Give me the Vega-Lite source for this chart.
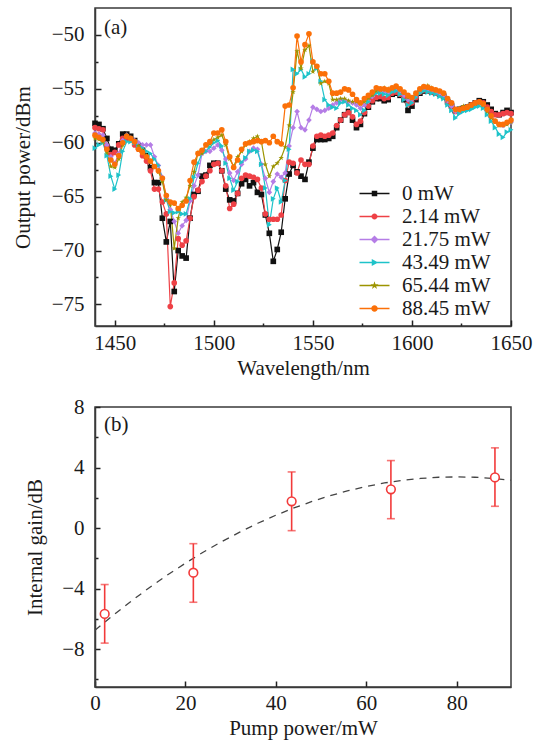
{
"$schema":"https://vega.github.io/schema/vega-lite/v6.json",
"padding":{"left":11,"top":7,"right":10,"bottom":5},
"background":"white",
"spacing":16,
"config":{
 "view":{"stroke":"#3a3a3a","strokeWidth":1.5},
 "font":"Liberation Serif",
 "axis":{"grid":false,"domainColor":"#3a3a3a","domainWidth":1.5,"tickColor":"#222222","tickWidth":1.5,"labelFont":"Liberation Serif","labelFontSize":21,"labelColor":"#1a1a1a","titleFont":"Liberation Serif","titleFontSize":21,"titleFontWeight":"normal","titleColor":"#1a1a1a","labelFlush":false,"labelOverlap":false}
},
"datasets":{
"spec":[
{"s":"0 mW","w":1440,"p":-58.2},{"s":"0 mW","w":1442,"p":-58.3},{"s":"0 mW","w":1444,"p":-58.7},{"s":"0 mW","w":1446,"p":-59.6},{"s":"0 mW","w":1448,"p":-60.6},{"s":"0 mW","w":1450,"p":-60.7},{"s":"0 mW","w":1452,"p":-60.1},{"s":"0 mW","w":1454,"p":-59.2},{"s":"0 mW","w":1456,"p":-59.2},{"s":"0 mW","w":1458,"p":-59.4},{"s":"0 mW","w":1460,"p":-59.8},{"s":"0 mW","w":1462,"p":-60.3},{"s":"0 mW","w":1464,"p":-60.7},{"s":"0 mW","w":1466,"p":-61.2},{"s":"0 mW","w":1468,"p":-62.3},{"s":"0 mW","w":1470,"p":-63.7},{"s":"0 mW","w":1472,"p":-63.7},{"s":"0 mW","w":1474,"p":-67.0},{"s":"0 mW","w":1476,"p":-69.2},{"s":"0 mW","w":1478,"p":-67.3},{"s":"0 mW","w":1480,"p":-73.8},{"s":"0 mW","w":1482,"p":-70.0},{"s":"0 mW","w":1484,"p":-70.5},{"s":"0 mW","w":1486,"p":-70.7},{"s":"0 mW","w":1488,"p":-67.0},{"s":"0 mW","w":1490,"p":-64.8},{"s":"0 mW","w":1492,"p":-64.5},{"s":"0 mW","w":1494,"p":-63.1},{"s":"0 mW","w":1496,"p":-63.0},{"s":"0 mW","w":1498,"p":-62.1},{"s":"0 mW","w":1500,"p":-61.9},{"s":"0 mW","w":1502,"p":-61.9},{"s":"0 mW","w":1504,"p":-62.6},{"s":"0 mW","w":1506,"p":-64.3},{"s":"0 mW","w":1508,"p":-65.3},{"s":"0 mW","w":1510,"p":-65.4},{"s":"0 mW","w":1512,"p":-64.7},{"s":"0 mW","w":1514,"p":-63.8},{"s":"0 mW","w":1516,"p":-63.4},{"s":"0 mW","w":1518,"p":-64.0},{"s":"0 mW","w":1520,"p":-63.7},{"s":"0 mW","w":1522,"p":-64.6},{"s":"0 mW","w":1524,"p":-64.8},{"s":"0 mW","w":1526,"p":-66.7},{"s":"0 mW","w":1528,"p":-68.4},{"s":"0 mW","w":1530,"p":-71.0},{"s":"0 mW","w":1532,"p":-69.9},{"s":"0 mW","w":1534,"p":-68.3},{"s":"0 mW","w":1536,"p":-65.2},{"s":"0 mW","w":1538,"p":-62.9},{"s":"0 mW","w":1540,"p":-62.1},{"s":"0 mW","w":1542,"p":-62.7},{"s":"0 mW","w":1544,"p":-63.1},{"s":"0 mW","w":1546,"p":-63.4},{"s":"0 mW","w":1548,"p":-61.8},{"s":"0 mW","w":1550,"p":-60.5},{"s":"0 mW","w":1552,"p":-59.7},{"s":"0 mW","w":1554,"p":-59.7},{"s":"0 mW","w":1556,"p":-59.7},{"s":"0 mW","w":1558,"p":-59.6},{"s":"0 mW","w":1560,"p":-59.4},{"s":"0 mW","w":1562,"p":-58.6},{"s":"0 mW","w":1564,"p":-57.9},{"s":"0 mW","w":1566,"p":-57.4},{"s":"0 mW","w":1568,"p":-57.1},{"s":"0 mW","w":1570,"p":-57.9},{"s":"0 mW","w":1572,"p":-58.6},{"s":"0 mW","w":1574,"p":-58.3},{"s":"0 mW","w":1576,"p":-57.3},{"s":"0 mW","w":1578,"p":-56.7},{"s":"0 mW","w":1580,"p":-56.2},{"s":"0 mW","w":1582,"p":-55.9},{"s":"0 mW","w":1584,"p":-55.9},{"s":"0 mW","w":1586,"p":-56.1},{"s":"0 mW","w":1588,"p":-56.0},{"s":"0 mW","w":1590,"p":-55.5},{"s":"0 mW","w":1592,"p":-55.4},{"s":"0 mW","w":1594,"p":-55.6},{"s":"0 mW","w":1596,"p":-56.0},{"s":"0 mW","w":1598,"p":-57.0},{"s":"0 mW","w":1600,"p":-56.6},{"s":"0 mW","w":1602,"p":-56.0},{"s":"0 mW","w":1604,"p":-55.4},{"s":"0 mW","w":1606,"p":-55.2},{"s":"0 mW","w":1608,"p":-55.2},{"s":"0 mW","w":1610,"p":-55.3},{"s":"0 mW","w":1612,"p":-55.4},{"s":"0 mW","w":1614,"p":-55.5},{"s":"0 mW","w":1616,"p":-55.7},{"s":"0 mW","w":1618,"p":-56.2},{"s":"0 mW","w":1620,"p":-56.6},{"s":"0 mW","w":1622,"p":-57.0},{"s":"0 mW","w":1624,"p":-56.9},{"s":"0 mW","w":1626,"p":-56.8},{"s":"0 mW","w":1628,"p":-56.7},{"s":"0 mW","w":1630,"p":-56.5},{"s":"0 mW","w":1632,"p":-56.3},{"s":"0 mW","w":1634,"p":-56.1},{"s":"0 mW","w":1636,"p":-56.2},{"s":"0 mW","w":1638,"p":-56.5},{"s":"0 mW","w":1640,"p":-56.9},{"s":"0 mW","w":1642,"p":-57.3},{"s":"0 mW","w":1644,"p":-57.4},{"s":"0 mW","w":1646,"p":-57.2},{"s":"0 mW","w":1648,"p":-57.0},{"s":"0 mW","w":1650,"p":-57.2},
{"s":"2.14 mW","w":1440,"p":-58.6},{"s":"2.14 mW","w":1442,"p":-58.7},{"s":"2.14 mW","w":1444,"p":-58.8},{"s":"2.14 mW","w":1446,"p":-60.3},{"s":"2.14 mW","w":1448,"p":-61.1},{"s":"2.14 mW","w":1450,"p":-60.9},{"s":"2.14 mW","w":1452,"p":-60.2},{"s":"2.14 mW","w":1454,"p":-59.6},{"s":"2.14 mW","w":1456,"p":-59.6},{"s":"2.14 mW","w":1458,"p":-59.7},{"s":"2.14 mW","w":1460,"p":-60.2},{"s":"2.14 mW","w":1462,"p":-60.6},{"s":"2.14 mW","w":1464,"p":-61.2},{"s":"2.14 mW","w":1466,"p":-61.7},{"s":"2.14 mW","w":1468,"p":-62.6},{"s":"2.14 mW","w":1470,"p":-64.3},{"s":"2.14 mW","w":1472,"p":-64.3},{"s":"2.14 mW","w":1474,"p":-65.5},{"s":"2.14 mW","w":1476,"p":-66.6},{"s":"2.14 mW","w":1478,"p":-75.2},{"s":"2.14 mW","w":1480,"p":-73.0},{"s":"2.14 mW","w":1482,"p":-68.9},{"s":"2.14 mW","w":1484,"p":-69.5},{"s":"2.14 mW","w":1486,"p":-69.1},{"s":"2.14 mW","w":1488,"p":-67.0},{"s":"2.14 mW","w":1490,"p":-65.0},{"s":"2.14 mW","w":1492,"p":-64.4},{"s":"2.14 mW","w":1494,"p":-63.6},{"s":"2.14 mW","w":1496,"p":-63.1},{"s":"2.14 mW","w":1498,"p":-62.6},{"s":"2.14 mW","w":1500,"p":-62.0},{"s":"2.14 mW","w":1502,"p":-61.9},{"s":"2.14 mW","w":1504,"p":-62.6},{"s":"2.14 mW","w":1506,"p":-64.0},{"s":"2.14 mW","w":1508,"p":-66.1},{"s":"2.14 mW","w":1510,"p":-65.7},{"s":"2.14 mW","w":1512,"p":-64.7},{"s":"2.14 mW","w":1514,"p":-63.3},{"s":"2.14 mW","w":1516,"p":-63.0},{"s":"2.14 mW","w":1518,"p":-63.1},{"s":"2.14 mW","w":1520,"p":-63.2},{"s":"2.14 mW","w":1522,"p":-63.4},{"s":"2.14 mW","w":1524,"p":-64.2},{"s":"2.14 mW","w":1526,"p":-66.6},{"s":"2.14 mW","w":1528,"p":-67.1},{"s":"2.14 mW","w":1530,"p":-67.1},{"s":"2.14 mW","w":1532,"p":-67.1},{"s":"2.14 mW","w":1534,"p":-66.7},{"s":"2.14 mW","w":1536,"p":-63.5},{"s":"2.14 mW","w":1538,"p":-61.8},{"s":"2.14 mW","w":1540,"p":-61.9},{"s":"2.14 mW","w":1542,"p":-62.8},{"s":"2.14 mW","w":1544,"p":-61.6},{"s":"2.14 mW","w":1546,"p":-62.0},{"s":"2.14 mW","w":1548,"p":-62.0},{"s":"2.14 mW","w":1550,"p":-60.3},{"s":"2.14 mW","w":1552,"p":-59.4},{"s":"2.14 mW","w":1554,"p":-59.3},{"s":"2.14 mW","w":1556,"p":-59.4},{"s":"2.14 mW","w":1558,"p":-59.3},{"s":"2.14 mW","w":1560,"p":-59.1},{"s":"2.14 mW","w":1562,"p":-58.4},{"s":"2.14 mW","w":1564,"p":-57.9},{"s":"2.14 mW","w":1566,"p":-57.4},{"s":"2.14 mW","w":1568,"p":-57.2},{"s":"2.14 mW","w":1570,"p":-57.6},{"s":"2.14 mW","w":1572,"p":-58.3},{"s":"2.14 mW","w":1574,"p":-58.0},{"s":"2.14 mW","w":1576,"p":-57.2},{"s":"2.14 mW","w":1578,"p":-56.6},{"s":"2.14 mW","w":1580,"p":-56.1},{"s":"2.14 mW","w":1582,"p":-55.8},{"s":"2.14 mW","w":1584,"p":-55.7},{"s":"2.14 mW","w":1586,"p":-55.9},{"s":"2.14 mW","w":1588,"p":-55.8},{"s":"2.14 mW","w":1590,"p":-55.4},{"s":"2.14 mW","w":1592,"p":-55.3},{"s":"2.14 mW","w":1594,"p":-55.5},{"s":"2.14 mW","w":1596,"p":-55.8},{"s":"2.14 mW","w":1598,"p":-56.4},{"s":"2.14 mW","w":1600,"p":-56.3},{"s":"2.14 mW","w":1602,"p":-55.8},{"s":"2.14 mW","w":1604,"p":-55.3},{"s":"2.14 mW","w":1606,"p":-55.1},{"s":"2.14 mW","w":1608,"p":-55.2},{"s":"2.14 mW","w":1610,"p":-55.3},{"s":"2.14 mW","w":1612,"p":-55.4},{"s":"2.14 mW","w":1614,"p":-55.5},{"s":"2.14 mW","w":1616,"p":-55.7},{"s":"2.14 mW","w":1618,"p":-56.2},{"s":"2.14 mW","w":1620,"p":-56.6},{"s":"2.14 mW","w":1622,"p":-57.1},{"s":"2.14 mW","w":1624,"p":-57.0},{"s":"2.14 mW","w":1626,"p":-56.8},{"s":"2.14 mW","w":1628,"p":-56.7},{"s":"2.14 mW","w":1630,"p":-56.5},{"s":"2.14 mW","w":1632,"p":-56.3},{"s":"2.14 mW","w":1634,"p":-56.2},{"s":"2.14 mW","w":1636,"p":-56.3},{"s":"2.14 mW","w":1638,"p":-56.7},{"s":"2.14 mW","w":1640,"p":-57.1},{"s":"2.14 mW","w":1642,"p":-57.4},{"s":"2.14 mW","w":1644,"p":-57.4},{"s":"2.14 mW","w":1646,"p":-57.3},{"s":"2.14 mW","w":1648,"p":-57.2},{"s":"2.14 mW","w":1650,"p":-57.3},
{"s":"21.75 mW","w":1440,"p":-59.1},{"s":"21.75 mW","w":1442,"p":-59.2},{"s":"21.75 mW","w":1444,"p":-59.3},{"s":"21.75 mW","w":1446,"p":-60.2},{"s":"21.75 mW","w":1448,"p":-61.3},{"s":"21.75 mW","w":1450,"p":-61.9},{"s":"21.75 mW","w":1452,"p":-61.0},{"s":"21.75 mW","w":1454,"p":-59.8},{"s":"21.75 mW","w":1456,"p":-59.3},{"s":"21.75 mW","w":1458,"p":-59.6},{"s":"21.75 mW","w":1460,"p":-59.8},{"s":"21.75 mW","w":1462,"p":-60.0},{"s":"21.75 mW","w":1464,"p":-60.2},{"s":"21.75 mW","w":1466,"p":-60.2},{"s":"21.75 mW","w":1468,"p":-60.2},{"s":"21.75 mW","w":1470,"p":-61.3},{"s":"21.75 mW","w":1472,"p":-62.1},{"s":"21.75 mW","w":1474,"p":-63.2},{"s":"21.75 mW","w":1476,"p":-65.2},{"s":"21.75 mW","w":1478,"p":-66.2},{"s":"21.75 mW","w":1480,"p":-67.3},{"s":"21.75 mW","w":1482,"p":-68.4},{"s":"21.75 mW","w":1484,"p":-67.7},{"s":"21.75 mW","w":1486,"p":-67.2},{"s":"21.75 mW","w":1488,"p":-65.4},{"s":"21.75 mW","w":1490,"p":-64.0},{"s":"21.75 mW","w":1492,"p":-63.0},{"s":"21.75 mW","w":1494,"p":-61.0},{"s":"21.75 mW","w":1496,"p":-60.8},{"s":"21.75 mW","w":1498,"p":-60.8},{"s":"21.75 mW","w":1500,"p":-60.5},{"s":"21.75 mW","w":1502,"p":-60.2},{"s":"21.75 mW","w":1504,"p":-60.7},{"s":"21.75 mW","w":1506,"p":-61.5},{"s":"21.75 mW","w":1508,"p":-62.8},{"s":"21.75 mW","w":1510,"p":-63.5},{"s":"21.75 mW","w":1512,"p":-62.7},{"s":"21.75 mW","w":1514,"p":-62.0},{"s":"21.75 mW","w":1516,"p":-61.5},{"s":"21.75 mW","w":1518,"p":-60.8},{"s":"21.75 mW","w":1520,"p":-60.5},{"s":"21.75 mW","w":1522,"p":-60.6},{"s":"21.75 mW","w":1524,"p":-62.0},{"s":"21.75 mW","w":1526,"p":-63.3},{"s":"21.75 mW","w":1528,"p":-64.6},{"s":"21.75 mW","w":1530,"p":-63.6},{"s":"21.75 mW","w":1532,"p":-62.9},{"s":"21.75 mW","w":1534,"p":-63.2},{"s":"21.75 mW","w":1536,"p":-62.8},{"s":"21.75 mW","w":1538,"p":-60.3},{"s":"21.75 mW","w":1540,"p":-58.6},{"s":"21.75 mW","w":1542,"p":-57.1},{"s":"21.75 mW","w":1544,"p":-58.6},{"s":"21.75 mW","w":1546,"p":-58.8},{"s":"21.75 mW","w":1548,"p":-57.9},{"s":"21.75 mW","w":1550,"p":-56.7},{"s":"21.75 mW","w":1552,"p":-56.9},{"s":"21.75 mW","w":1554,"p":-57.1},{"s":"21.75 mW","w":1556,"p":-57.0},{"s":"21.75 mW","w":1558,"p":-56.8},{"s":"21.75 mW","w":1560,"p":-56.5},{"s":"21.75 mW","w":1562,"p":-56.3},{"s":"21.75 mW","w":1564,"p":-56.0},{"s":"21.75 mW","w":1566,"p":-56.1},{"s":"21.75 mW","w":1568,"p":-56.2},{"s":"21.75 mW","w":1570,"p":-56.3},{"s":"21.75 mW","w":1572,"p":-56.5},{"s":"21.75 mW","w":1574,"p":-56.8},{"s":"21.75 mW","w":1576,"p":-56.5},{"s":"21.75 mW","w":1578,"p":-56.1},{"s":"21.75 mW","w":1580,"p":-55.7},{"s":"21.75 mW","w":1582,"p":-55.3},{"s":"21.75 mW","w":1584,"p":-55.2},{"s":"21.75 mW","w":1586,"p":-55.3},{"s":"21.75 mW","w":1588,"p":-55.4},{"s":"21.75 mW","w":1590,"p":-55.1},{"s":"21.75 mW","w":1592,"p":-55.0},{"s":"21.75 mW","w":1594,"p":-55.2},{"s":"21.75 mW","w":1596,"p":-55.6},{"s":"21.75 mW","w":1598,"p":-56.0},{"s":"21.75 mW","w":1600,"p":-56.0},{"s":"21.75 mW","w":1602,"p":-55.6},{"s":"21.75 mW","w":1604,"p":-55.2},{"s":"21.75 mW","w":1606,"p":-55.0},{"s":"21.75 mW","w":1608,"p":-55.0},{"s":"21.75 mW","w":1610,"p":-55.2},{"s":"21.75 mW","w":1612,"p":-55.3},{"s":"21.75 mW","w":1614,"p":-55.4},{"s":"21.75 mW","w":1616,"p":-55.6},{"s":"21.75 mW","w":1618,"p":-56.1},{"s":"21.75 mW","w":1620,"p":-56.6},{"s":"21.75 mW","w":1622,"p":-57.1},{"s":"21.75 mW","w":1624,"p":-57.0},{"s":"21.75 mW","w":1626,"p":-56.9},{"s":"21.75 mW","w":1628,"p":-56.8},{"s":"21.75 mW","w":1630,"p":-56.6},{"s":"21.75 mW","w":1632,"p":-56.4},{"s":"21.75 mW","w":1634,"p":-56.3},{"s":"21.75 mW","w":1636,"p":-56.5},{"s":"21.75 mW","w":1638,"p":-57.0},{"s":"21.75 mW","w":1640,"p":-57.6},{"s":"21.75 mW","w":1642,"p":-58.0},{"s":"21.75 mW","w":1644,"p":-58.3},{"s":"21.75 mW","w":1646,"p":-58.4},{"s":"21.75 mW","w":1648,"p":-58.2},{"s":"21.75 mW","w":1650,"p":-58.1},
{"s":"43.49 mW","w":1440,"p":-60.5},{"s":"43.49 mW","w":1442,"p":-60.2},{"s":"43.49 mW","w":1444,"p":-60.0},{"s":"43.49 mW","w":1446,"p":-61.2},{"s":"43.49 mW","w":1448,"p":-63.1},{"s":"43.49 mW","w":1450,"p":-64.3},{"s":"43.49 mW","w":1452,"p":-63.0},{"s":"43.49 mW","w":1454,"p":-60.8},{"s":"43.49 mW","w":1456,"p":-59.9},{"s":"43.49 mW","w":1458,"p":-59.9},{"s":"43.49 mW","w":1460,"p":-60.0},{"s":"43.49 mW","w":1462,"p":-60.3},{"s":"43.49 mW","w":1464,"p":-60.5},{"s":"43.49 mW","w":1466,"p":-60.8},{"s":"43.49 mW","w":1468,"p":-61.0},{"s":"43.49 mW","w":1470,"p":-61.5},{"s":"43.49 mW","w":1472,"p":-62.1},{"s":"43.49 mW","w":1474,"p":-63.4},{"s":"43.49 mW","w":1476,"p":-65.3},{"s":"43.49 mW","w":1478,"p":-66.4},{"s":"43.49 mW","w":1480,"p":-66.5},{"s":"43.49 mW","w":1482,"p":-66.4},{"s":"43.49 mW","w":1484,"p":-66.6},{"s":"43.49 mW","w":1486,"p":-66.6},{"s":"43.49 mW","w":1488,"p":-65.2},{"s":"43.49 mW","w":1490,"p":-63.2},{"s":"43.49 mW","w":1492,"p":-61.9},{"s":"43.49 mW","w":1494,"p":-61.0},{"s":"43.49 mW","w":1496,"p":-60.8},{"s":"43.49 mW","w":1498,"p":-60.4},{"s":"43.49 mW","w":1500,"p":-60.0},{"s":"43.49 mW","w":1502,"p":-59.8},{"s":"43.49 mW","w":1504,"p":-60.3},{"s":"43.49 mW","w":1506,"p":-61.9},{"s":"43.49 mW","w":1508,"p":-63.3},{"s":"43.49 mW","w":1510,"p":-64.4},{"s":"43.49 mW","w":1512,"p":-63.6},{"s":"43.49 mW","w":1514,"p":-61.8},{"s":"43.49 mW","w":1516,"p":-61.4},{"s":"43.49 mW","w":1518,"p":-60.8},{"s":"43.49 mW","w":1520,"p":-60.7},{"s":"43.49 mW","w":1522,"p":-60.8},{"s":"43.49 mW","w":1524,"p":-62.0},{"s":"43.49 mW","w":1526,"p":-64.2},{"s":"43.49 mW","w":1528,"p":-67.6},{"s":"43.49 mW","w":1530,"p":-65.2},{"s":"43.49 mW","w":1532,"p":-64.2},{"s":"43.49 mW","w":1534,"p":-65.5},{"s":"43.49 mW","w":1536,"p":-63.5},{"s":"43.49 mW","w":1538,"p":-60.6},{"s":"43.49 mW","w":1540,"p":-53.2},{"s":"43.49 mW","w":1542,"p":-53.6},{"s":"43.49 mW","w":1544,"p":-53.2},{"s":"43.49 mW","w":1546,"p":-53.9},{"s":"43.49 mW","w":1548,"p":-53.6},{"s":"43.49 mW","w":1550,"p":-52.4},{"s":"43.49 mW","w":1552,"p":-53.1},{"s":"43.49 mW","w":1554,"p":-54.3},{"s":"43.49 mW","w":1556,"p":-56.0},{"s":"43.49 mW","w":1558,"p":-56.5},{"s":"43.49 mW","w":1560,"p":-56.7},{"s":"43.49 mW","w":1562,"p":-56.8},{"s":"43.49 mW","w":1564,"p":-56.3},{"s":"43.49 mW","w":1566,"p":-56.2},{"s":"43.49 mW","w":1568,"p":-56.5},{"s":"43.49 mW","w":1570,"p":-56.8},{"s":"43.49 mW","w":1572,"p":-57.0},{"s":"43.49 mW","w":1574,"p":-57.4},{"s":"43.49 mW","w":1576,"p":-57.0},{"s":"43.49 mW","w":1578,"p":-56.2},{"s":"43.49 mW","w":1580,"p":-55.6},{"s":"43.49 mW","w":1582,"p":-55.4},{"s":"43.49 mW","w":1584,"p":-55.4},{"s":"43.49 mW","w":1586,"p":-55.5},{"s":"43.49 mW","w":1588,"p":-55.6},{"s":"43.49 mW","w":1590,"p":-55.3},{"s":"43.49 mW","w":1592,"p":-55.2},{"s":"43.49 mW","w":1594,"p":-55.5},{"s":"43.49 mW","w":1596,"p":-56.0},{"s":"43.49 mW","w":1598,"p":-56.5},{"s":"43.49 mW","w":1600,"p":-56.3},{"s":"43.49 mW","w":1602,"p":-55.8},{"s":"43.49 mW","w":1604,"p":-55.4},{"s":"43.49 mW","w":1606,"p":-55.2},{"s":"43.49 mW","w":1608,"p":-55.3},{"s":"43.49 mW","w":1610,"p":-55.4},{"s":"43.49 mW","w":1612,"p":-55.5},{"s":"43.49 mW","w":1614,"p":-55.7},{"s":"43.49 mW","w":1616,"p":-55.9},{"s":"43.49 mW","w":1618,"p":-56.5},{"s":"43.49 mW","w":1620,"p":-57.0},{"s":"43.49 mW","w":1622,"p":-57.7},{"s":"43.49 mW","w":1624,"p":-57.3},{"s":"43.49 mW","w":1626,"p":-57.1},{"s":"43.49 mW","w":1628,"p":-57.0},{"s":"43.49 mW","w":1630,"p":-56.9},{"s":"43.49 mW","w":1632,"p":-56.7},{"s":"43.49 mW","w":1634,"p":-56.6},{"s":"43.49 mW","w":1636,"p":-56.8},{"s":"43.49 mW","w":1638,"p":-57.4},{"s":"43.49 mW","w":1640,"p":-58.0},{"s":"43.49 mW","w":1642,"p":-58.6},{"s":"43.49 mW","w":1644,"p":-59.2},{"s":"43.49 mW","w":1646,"p":-59.5},{"s":"43.49 mW","w":1648,"p":-59.0},{"s":"43.49 mW","w":1650,"p":-58.8},
{"s":"65.44 mW","w":1440,"p":-59.6},{"s":"65.44 mW","w":1442,"p":-59.7},{"s":"65.44 mW","w":1444,"p":-59.9},{"s":"65.44 mW","w":1446,"p":-60.9},{"s":"65.44 mW","w":1448,"p":-62.2},{"s":"65.44 mW","w":1450,"p":-62.3},{"s":"65.44 mW","w":1452,"p":-61.5},{"s":"65.44 mW","w":1454,"p":-60.2},{"s":"65.44 mW","w":1456,"p":-59.3},{"s":"65.44 mW","w":1458,"p":-59.6},{"s":"65.44 mW","w":1460,"p":-59.9},{"s":"65.44 mW","w":1462,"p":-60.3},{"s":"65.44 mW","w":1464,"p":-60.7},{"s":"65.44 mW","w":1466,"p":-61.2},{"s":"65.44 mW","w":1468,"p":-61.7},{"s":"65.44 mW","w":1470,"p":-62.2},{"s":"65.44 mW","w":1472,"p":-62.7},{"s":"65.44 mW","w":1474,"p":-63.6},{"s":"65.44 mW","w":1476,"p":-65.3},{"s":"65.44 mW","w":1478,"p":-65.7},{"s":"65.44 mW","w":1480,"p":-69.8},{"s":"65.44 mW","w":1482,"p":-67.0},{"s":"65.44 mW","w":1484,"p":-65.5},{"s":"65.44 mW","w":1486,"p":-65.1},{"s":"65.44 mW","w":1488,"p":-64.0},{"s":"65.44 mW","w":1490,"p":-62.7},{"s":"65.44 mW","w":1492,"p":-60.9},{"s":"65.44 mW","w":1494,"p":-61.0},{"s":"65.44 mW","w":1496,"p":-60.2},{"s":"65.44 mW","w":1498,"p":-60.1},{"s":"65.44 mW","w":1500,"p":-59.7},{"s":"65.44 mW","w":1502,"p":-59.5},{"s":"65.44 mW","w":1504,"p":-59.3},{"s":"65.44 mW","w":1506,"p":-60.2},{"s":"65.44 mW","w":1508,"p":-61.5},{"s":"65.44 mW","w":1510,"p":-62.2},{"s":"65.44 mW","w":1512,"p":-61.3},{"s":"65.44 mW","w":1514,"p":-60.8},{"s":"65.44 mW","w":1516,"p":-60.2},{"s":"65.44 mW","w":1518,"p":-59.9},{"s":"65.44 mW","w":1520,"p":-59.6},{"s":"65.44 mW","w":1522,"p":-59.4},{"s":"65.44 mW","w":1524,"p":-59.9},{"s":"65.44 mW","w":1526,"p":-62.0},{"s":"65.44 mW","w":1528,"p":-63.1},{"s":"65.44 mW","w":1530,"p":-62.2},{"s":"65.44 mW","w":1532,"p":-61.9},{"s":"65.44 mW","w":1534,"p":-61.4},{"s":"65.44 mW","w":1536,"p":-60.4},{"s":"65.44 mW","w":1538,"p":-58.4},{"s":"65.44 mW","w":1540,"p":-55.3},{"s":"65.44 mW","w":1542,"p":-51.5},{"s":"65.44 mW","w":1544,"p":-53.1},{"s":"65.44 mW","w":1546,"p":-51.4},{"s":"65.44 mW","w":1548,"p":-51.0},{"s":"65.44 mW","w":1550,"p":-53.4},{"s":"65.44 mW","w":1552,"p":-52.9},{"s":"65.44 mW","w":1554,"p":-54.5},{"s":"65.44 mW","w":1556,"p":-54.3},{"s":"65.44 mW","w":1558,"p":-54.5},{"s":"65.44 mW","w":1560,"p":-56.0},{"s":"65.44 mW","w":1562,"p":-56.0},{"s":"65.44 mW","w":1564,"p":-55.9},{"s":"65.44 mW","w":1566,"p":-55.9},{"s":"65.44 mW","w":1568,"p":-56.1},{"s":"65.44 mW","w":1570,"p":-56.2},{"s":"65.44 mW","w":1572,"p":-56.2},{"s":"65.44 mW","w":1574,"p":-56.4},{"s":"65.44 mW","w":1576,"p":-56.2},{"s":"65.44 mW","w":1578,"p":-55.9},{"s":"65.44 mW","w":1580,"p":-55.6},{"s":"65.44 mW","w":1582,"p":-55.2},{"s":"65.44 mW","w":1584,"p":-55.1},{"s":"65.44 mW","w":1586,"p":-54.9},{"s":"65.44 mW","w":1588,"p":-55.0},{"s":"65.44 mW","w":1590,"p":-55.0},{"s":"65.44 mW","w":1592,"p":-54.9},{"s":"65.44 mW","w":1594,"p":-55.1},{"s":"65.44 mW","w":1596,"p":-55.4},{"s":"65.44 mW","w":1598,"p":-55.8},{"s":"65.44 mW","w":1600,"p":-55.9},{"s":"65.44 mW","w":1602,"p":-55.5},{"s":"65.44 mW","w":1604,"p":-55.1},{"s":"65.44 mW","w":1606,"p":-54.8},{"s":"65.44 mW","w":1608,"p":-54.7},{"s":"65.44 mW","w":1610,"p":-54.9},{"s":"65.44 mW","w":1612,"p":-55.1},{"s":"65.44 mW","w":1614,"p":-55.2},{"s":"65.44 mW","w":1616,"p":-55.5},{"s":"65.44 mW","w":1618,"p":-56.0},{"s":"65.44 mW","w":1620,"p":-56.4},{"s":"65.44 mW","w":1622,"p":-57.0},{"s":"65.44 mW","w":1624,"p":-56.8},{"s":"65.44 mW","w":1626,"p":-56.6},{"s":"65.44 mW","w":1628,"p":-56.6},{"s":"65.44 mW","w":1630,"p":-56.6},{"s":"65.44 mW","w":1632,"p":-56.4},{"s":"65.44 mW","w":1634,"p":-56.3},{"s":"65.44 mW","w":1636,"p":-56.5},{"s":"65.44 mW","w":1638,"p":-57.1},{"s":"65.44 mW","w":1640,"p":-57.7},{"s":"65.44 mW","w":1642,"p":-58.1},{"s":"65.44 mW","w":1644,"p":-58.4},{"s":"65.44 mW","w":1646,"p":-58.4},{"s":"65.44 mW","w":1648,"p":-58.3},{"s":"65.44 mW","w":1650,"p":-58.1},
{"s":"88.45 mW","w":1440,"p":-59.3},{"s":"88.45 mW","w":1442,"p":-59.5},{"s":"88.45 mW","w":1444,"p":-59.7},{"s":"88.45 mW","w":1446,"p":-60.6},{"s":"88.45 mW","w":1448,"p":-61.6},{"s":"88.45 mW","w":1450,"p":-62.0},{"s":"88.45 mW","w":1452,"p":-61.2},{"s":"88.45 mW","w":1454,"p":-60.0},{"s":"88.45 mW","w":1456,"p":-59.4},{"s":"88.45 mW","w":1458,"p":-59.6},{"s":"88.45 mW","w":1460,"p":-59.9},{"s":"88.45 mW","w":1462,"p":-60.6},{"s":"88.45 mW","w":1464,"p":-60.9},{"s":"88.45 mW","w":1466,"p":-61.3},{"s":"88.45 mW","w":1468,"p":-61.7},{"s":"88.45 mW","w":1470,"p":-62.2},{"s":"88.45 mW","w":1472,"p":-62.6},{"s":"88.45 mW","w":1474,"p":-63.3},{"s":"88.45 mW","w":1476,"p":-64.9},{"s":"88.45 mW","w":1478,"p":-65.5},{"s":"88.45 mW","w":1480,"p":-65.6},{"s":"88.45 mW","w":1482,"p":-66.1},{"s":"88.45 mW","w":1484,"p":-65.8},{"s":"88.45 mW","w":1486,"p":-65.4},{"s":"88.45 mW","w":1488,"p":-63.5},{"s":"88.45 mW","w":1490,"p":-61.8},{"s":"88.45 mW","w":1492,"p":-61.0},{"s":"88.45 mW","w":1494,"p":-60.7},{"s":"88.45 mW","w":1496,"p":-60.2},{"s":"88.45 mW","w":1498,"p":-59.9},{"s":"88.45 mW","w":1500,"p":-59.1},{"s":"88.45 mW","w":1502,"p":-59.1},{"s":"88.45 mW","w":1504,"p":-58.8},{"s":"88.45 mW","w":1506,"p":-59.9},{"s":"88.45 mW","w":1508,"p":-61.3},{"s":"88.45 mW","w":1510,"p":-62.3},{"s":"88.45 mW","w":1512,"p":-61.6},{"s":"88.45 mW","w":1514,"p":-60.6},{"s":"88.45 mW","w":1516,"p":-60.1},{"s":"88.45 mW","w":1518,"p":-60.0},{"s":"88.45 mW","w":1520,"p":-59.9},{"s":"88.45 mW","w":1522,"p":-59.8},{"s":"88.45 mW","w":1524,"p":-59.9},{"s":"88.45 mW","w":1526,"p":-59.8},{"s":"88.45 mW","w":1528,"p":-60.0},{"s":"88.45 mW","w":1530,"p":-59.4},{"s":"88.45 mW","w":1532,"p":-59.9},{"s":"88.45 mW","w":1534,"p":-60.1},{"s":"88.45 mW","w":1536,"p":-56.6},{"s":"88.45 mW","w":1538,"p":-56.5},{"s":"88.45 mW","w":1540,"p":-54.9},{"s":"88.45 mW","w":1542,"p":-50.1},{"s":"88.45 mW","w":1544,"p":-52.5},{"s":"88.45 mW","w":1546,"p":-50.9},{"s":"88.45 mW","w":1548,"p":-49.9},{"s":"88.45 mW","w":1550,"p":-52.5},{"s":"88.45 mW","w":1552,"p":-52.9},{"s":"88.45 mW","w":1554,"p":-53.6},{"s":"88.45 mW","w":1556,"p":-53.6},{"s":"88.45 mW","w":1558,"p":-54.3},{"s":"88.45 mW","w":1560,"p":-55.4},{"s":"88.45 mW","w":1562,"p":-55.4},{"s":"88.45 mW","w":1564,"p":-55.3},{"s":"88.45 mW","w":1566,"p":-55.0},{"s":"88.45 mW","w":1568,"p":-55.1},{"s":"88.45 mW","w":1570,"p":-55.5},{"s":"88.45 mW","w":1572,"p":-56.0},{"s":"88.45 mW","w":1574,"p":-56.3},{"s":"88.45 mW","w":1576,"p":-55.9},{"s":"88.45 mW","w":1578,"p":-55.6},{"s":"88.45 mW","w":1580,"p":-55.3},{"s":"88.45 mW","w":1582,"p":-54.9},{"s":"88.45 mW","w":1584,"p":-55.0},{"s":"88.45 mW","w":1586,"p":-55.0},{"s":"88.45 mW","w":1588,"p":-55.1},{"s":"88.45 mW","w":1590,"p":-54.9},{"s":"88.45 mW","w":1592,"p":-54.75},{"s":"88.45 mW","w":1594,"p":-55.0},{"s":"88.45 mW","w":1596,"p":-55.3},{"s":"88.45 mW","w":1598,"p":-55.6},{"s":"88.45 mW","w":1600,"p":-55.8},{"s":"88.45 mW","w":1602,"p":-55.4},{"s":"88.45 mW","w":1604,"p":-55.0},{"s":"88.45 mW","w":1606,"p":-54.8},{"s":"88.45 mW","w":1608,"p":-54.85},{"s":"88.45 mW","w":1610,"p":-55.0},{"s":"88.45 mW","w":1612,"p":-55.1},{"s":"88.45 mW","w":1614,"p":-55.2},{"s":"88.45 mW","w":1616,"p":-55.4},{"s":"88.45 mW","w":1618,"p":-55.9},{"s":"88.45 mW","w":1620,"p":-56.3},{"s":"88.45 mW","w":1622,"p":-56.9},{"s":"88.45 mW","w":1624,"p":-56.9},{"s":"88.45 mW","w":1626,"p":-56.8},{"s":"88.45 mW","w":1628,"p":-56.7},{"s":"88.45 mW","w":1630,"p":-56.5},{"s":"88.45 mW","w":1632,"p":-56.3},{"s":"88.45 mW","w":1634,"p":-56.2},{"s":"88.45 mW","w":1636,"p":-56.4},{"s":"88.45 mW","w":1638,"p":-56.9},{"s":"88.45 mW","w":1640,"p":-57.5},{"s":"88.45 mW","w":1642,"p":-58.0},{"s":"88.45 mW","w":1644,"p":-58.3},{"s":"88.45 mW","w":1646,"p":-58.3},{"s":"88.45 mW","w":1648,"p":-58.1},{"s":"88.45 mW","w":1650,"p":-57.9}
],
"gain":[
{"pump":2.14,"gain":-5.67,"lo":-7.6,"hi":-3.73},
{"pump":21.75,"gain":-2.95,"lo":-4.9,"hi":-1.03},
{"pump":43.49,"gain":1.77,"lo":-0.17,"hi":3.71},
{"pump":65.44,"gain":2.56,"lo":0.62,"hi":4.46},
{"pump":88.45,"gain":3.35,"lo":1.44,"hi":5.3}
],
"fit":[
{"pump":0,"gain":-6.75},{"pump":4,"gain":-5.76},{"pump":8,"gain":-4.83},{"pump":12,"gain":-3.94},{"pump":16,"gain":-3.10},{"pump":20,"gain":-2.32},{"pump":24,"gain":-1.58},{"pump":28,"gain":-0.90},{"pump":32,"gain":-0.27},{"pump":36,"gain":0.32},{"pump":40,"gain":0.85},{"pump":44,"gain":1.33},{"pump":48,"gain":1.76},{"pump":52,"gain":2.14},{"pump":56,"gain":2.47},{"pump":60,"gain":2.75},{"pump":64,"gain":2.98},{"pump":68,"gain":3.15},{"pump":72,"gain":3.28},{"pump":76,"gain":3.36},{"pump":80,"gain":3.38},{"pump":84,"gain":3.36},{"pump":88,"gain":3.28},{"pump":92,"gain":3.16}
]
},
"vconcat":[
{
 "width":416,"height":318,
 "title":{"text":"(a)","anchor":"start","frame":"group","dx":9,"dy":34,"fontSize":21,"font":"Liberation Serif","fontWeight":"normal","color":"#1a1a1a"},
 "data":{"name":"spec"},
 "encoding":{
  "x":{"field":"w","type":"quantitative","scale":{"domain":[1440,1650],"nice":false,"zero":false},
   "axis":{"title":"Wavelength/nm","format":"d","values":[1450,1475,1500,1525,1550,1575,1600,1625,1650],"labelExpr":"datum.value % 50 === 0 ? datum.label : ''","tickSize":{"condition":{"test":"datum.value % 50 === 0","value":-6},"value":-3},"labelPadding":12,"titlePadding":1}},
  "y":{"field":"p","type":"quantitative","scale":{"domain":[-77,-47.5],"nice":false,"zero":false},
   "axis":{"title":"Output power/dBm","format":"d","values":[-75,-72.5,-70,-67.5,-65,-62.5,-60,-57.5,-55,-52.5,-50],"labelExpr":"datum.value % 5 === 0 ? datum.label : ''","tickSize":{"condition":{"test":"datum.value % 5 === 0","value":-6},"value":-3},"labelPadding":17,"titlePadding":18}}
 },
 "layer":[
  {"mark":{"type":"line","strokeWidth":1.2},
   "encoding":{"stroke":{"field":"s","type":"nominal","legend":null,"scale":{"domain":["88.45 mW","65.44 mW","43.49 mW","21.75 mW","2.14 mW","0 mW"],"range":["#fb7008","#9c9400","#1ec3c9","#b57de6","#ee4146","#111111"]}}}},
  {"mark":{"type":"point","filled":true,"opacity":1,"size":32},
   "encoding":{
    "color":{"field":"s","type":"nominal","scale":{"domain":["0 mW","2.14 mW","21.75 mW","43.49 mW","65.44 mW","88.45 mW"],"range":["#111111","#ee4146","#b57de6","#1ec3c9","#9c9400","#fb7008"]},
     "legend":{"title":null,"orient":"none","legendX":269,"legendY":175,"symbolSize":100,"labelOffset":17,"rowPadding":1,"padding":0,"labelFont":"Liberation Serif","labelFontSize":21,"labelColor":"#1a1a1a","symbolOpacity":1,"symbolStrokeWidth":0,
      "encode":{"symbols":{"update":{
       "shape":[
        {"test":"datum.value === '0 mW'","value":"M-3,-0.13H3V0.13H-3ZM-0.55,-0.55H0.55V0.55H-0.55Z"},
        {"test":"datum.value === '2.14 mW'","value":"M-3,-0.13H3V0.13H-3ZM0.6,0A0.6,0.6,0,1,1,-0.6,0A0.6,0.6,0,1,1,0.6,0Z"},
        {"test":"datum.value === '21.75 mW'","value":"M-3,-0.13H3V0.13H-3ZM0,-0.8L0.8,0L0,0.8L-0.8,0Z"},
        {"test":"datum.value === '43.49 mW'","value":"M-3,-0.13H3V0.13H-3ZM-0.55,-0.7L0.75,0L-0.55,0.7Z"},
        {"test":"datum.value === '65.44 mW'","value":"M-3,-0.13H3V0.13H-3ZM0,-0.85L0.2,-0.26L0.81,-0.26L0.32,0.1L0.5,0.69L0,0.32L-0.5,0.69L-0.32,0.1L-0.81,-0.26L-0.2,-0.26Z"},
        {"value":"M-3,-0.13H3V0.13H-3ZM0.65,0A0.65,0.65,0,1,1,-0.65,0A0.65,0.65,0,1,1,0.65,0Z"}]
      }}}}},
    "shape":{"field":"s","type":"nominal","legend":null,"scale":{"domain":["88.45 mW","65.44 mW","43.49 mW","21.75 mW","2.14 mW","0 mW"],"range":["circle","M0,-1L0.24,-0.31L0.95,-0.31L0.38,0.12L0.59,0.81L0,0.38L-0.59,0.81L-0.38,0.12L-0.95,-0.31L-0.24,-0.31Z","triangle-right","diamond","circle","square"]}}
   }}
 ]
},
{
 "width":416,"height":280,
 "title":{"text":"(b)","anchor":"start","frame":"group","dx":9,"dy":43,"fontSize":21,"font":"Liberation Serif","fontWeight":"normal","color":"#1a1a1a"},
 "encoding":{
  "x":{"field":"pump","type":"quantitative","scale":{"domain":[0,92],"nice":false,"zero":false},
   "axis":{"title":"Pump power/mW","format":"d","values":[0,20,40,60,80],"tickSize":-6,"labelPadding":11,"titlePadding":4}}
 },
 "layer":[
  {"data":{"name":"fit"},"mark":{"type":"line","strokeDash":[7,6],"color":"#444444","strokeWidth":1.3},
   "encoding":{"y":{"field":"gain","type":"quantitative","scale":{"domain":[-10.5,8],"nice":false,"zero":false},
    "axis":{"title":"Internal gain/dB","format":"d","values":[-10,-8,-6,-4,-2,0,2,4,6,8],"labelExpr":"datum.value % 4 === 0 ? datum.label : ''","tickSize":{"condition":{"test":"datum.value % 4 === 0","value":-5},"value":-3},"labelPadding":16,"titlePadding":16}}}},
  {"data":{"name":"gain"},"mark":{"type":"errorbar","color":"#f23a3a","thickness":1.6,"ticks":{"size":8,"thickness":1.6,"color":"#f23a3a"}},
   "encoding":{"y":{"field":"lo","type":"quantitative","scale":{"domain":[-10.5,8],"nice":false,"zero":false},
    "axis":{"title":"Internal gain/dB","format":"d","values":[-10,-8,-6,-4,-2,0,2,4,6,8],"labelExpr":"datum.value % 4 === 0 ? datum.label : ''","tickSize":{"condition":{"test":"datum.value % 4 === 0","value":-5},"value":-3},"labelPadding":16,"titlePadding":16}},"y2":{"field":"hi"}}},
  {"data":{"name":"gain"},"mark":{"type":"point","shape":"circle","filled":false,"fill":"white","fillOpacity":1,"stroke":"#f23a3a","strokeWidth":1.6,"size":75,"opacity":1},
   "encoding":{"y":{"field":"gain","type":"quantitative","scale":{"domain":[-10.5,8],"nice":false,"zero":false},
    "axis":{"title":"Internal gain/dB","format":"d","values":[-10,-8,-6,-4,-2,0,2,4,6,8],"labelExpr":"datum.value % 4 === 0 ? datum.label : ''","tickSize":{"condition":{"test":"datum.value % 4 === 0","value":-5},"value":-3},"labelPadding":16,"titlePadding":16}}}}
 ]
}
]
}
